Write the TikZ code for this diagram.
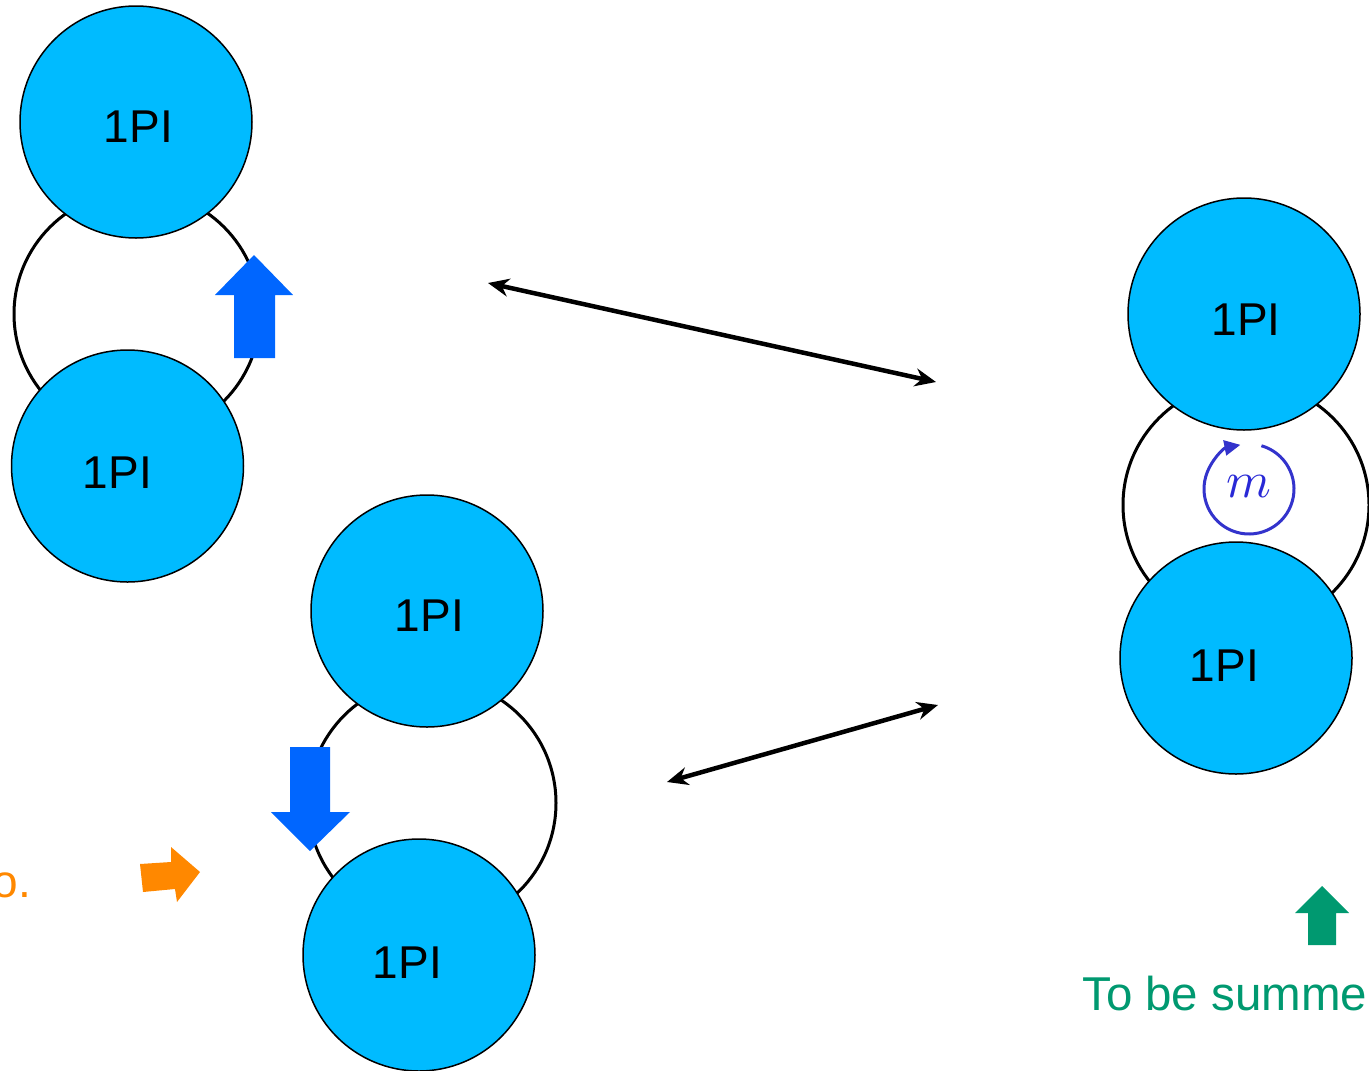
\documentclass[tikz,border=0pt]{standalone}
\usepackage{fontspec}
\setmainfont{Liberation Sans}
\usetikzlibrary{arrows.meta}
\definecolor{blobfill}{RGB}{0,187,255}
\definecolor{flowblue}{RGB}{0,102,255}
\definecolor{massblue}{RGB}{51,51,204}
\definecolor{hintorange}{RGB}{255,136,0}
\definecolor{sumgreen}{RGB}{0,153,112}
\tikzset{
  blob/.style={circle, draw=black, line width=1.5pt, fill=blobfill,
    minimum size=232pt, inner sep=0pt},
  bloblabel/.style={inner sep=0pt, font=\fontsize{46}{46}\selectfont},
  loopline/.style={draw=black, line width=3pt},
  relate/.style={line width=4.5pt, {Stealth[length=21pt,width=18pt]}-{Stealth[length=21pt,width=18pt]}}
}
\begin{document}
\begin{tikzpicture}[x=1pt,y=-1pt]
\useasboundingbox (0,0) rectangle (1369,1071);

% propagator loops, drawn under the blobs
\draw[loopline] (137,314) circle (123);
\draw[loopline] (432,803) circle (124);
\draw[loopline] (1246,505) circle (123);

% 1PI blobs
\node[blob] (tlA) at (136,122) {};
\node[blob] (tlB) at (127.5,466) {};
\node[blob] (mdA) at (427,611) {};
\node[blob] (mdB) at (419,955) {};
\node[blob] (rtA) at (1244,314) {};
\node[blob] (rtB) at (1236,658) {};
\node[bloblabel] (tlAl) at (138.5,127) {1PI};
\node[bloblabel] (tlBl) at (117.5,473) {1PI};
\node[bloblabel] (mdAl) at (429.5,615.5) {1PI};
\node[bloblabel] (mdBl) at (407.5,963) {1PI};
\node[bloblabel] (rtAl) at (1246,319.5) {1PI};
\node[bloblabel] (rtBl) at (1224.5,665.5) {1PI};

% momentum-flow arrows on the loops
\fill[flowblue] (254,255) -- (293,295) -- (275,295) -- (275,358) -- (234,358) -- (234,295) -- (215,295) -- cycle;
\fill[flowblue] (310,851) -- (350,812) -- (330,812) -- (330,747) -- (290,747) -- (290,812) -- (271,812) -- cycle;

% mass circulation marker
\coordinate (mc) at (1249,489);
\draw[massblue, line width=3pt, -{Triangle[length=16pt,width=15pt]}]
  ([shift={(-74:45)}]mc) arc[start angle=-74, end angle=259, radius=45];
\node[text=massblue!80!blue, scale=5.1, inner sep=0pt] (mlab) at (1249,487) {$m$};

% relations between the diagrams
\coordinate (p1) at (488,283);
\coordinate (q1) at (936,382);
\coordinate (p2) at (667,782);
\coordinate (q2) at (938,705);
\draw[relate] (p1) -- (q1);
\draw[relate] (p2) -- (q2);

% orange note
\node[anchor=base east, text=hintorange, font=\fontsize{46}{46}\selectfont, inner sep=0pt] (onote) at (31,897) {o.};
\fill[hintorange] (140,864) -- (171,862) -- (171,847) -- (200,872) -- (177,902) -- (175,889) -- (143,892) -- cycle;

% green note
\fill[sumgreen] (1322,886) -- (1349,913) -- (1336,913) -- (1336,945) -- (1308,945) -- (1308,913) -- (1295,913) -- cycle;
\node[anchor=base west, text=sumgreen, font=\fontsize{47.5}{47.5}\selectfont, inner sep=0pt] (gnote) at (1082,1010) {To be summe};
\end{tikzpicture}
\end{document}
